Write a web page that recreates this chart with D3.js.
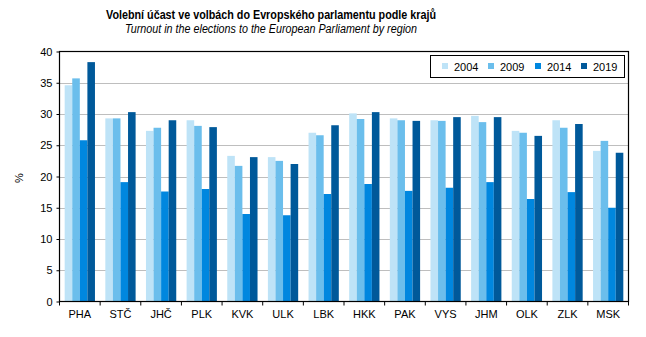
<!DOCTYPE html>
<html><head><meta charset="utf-8">
<script src="https://cdn.jsdelivr.net/npm/d3@7"></script>
<style>body{margin:0;background:#fff}svg{display:block}text{font-family:"Liberation Sans",Arial,sans-serif}</style>
</head><body><svg id="c" width="646" height="337"></svg>
<script>
const categories = ["PHA","STČ","JHČ","PLK","KVK","ULK","LBK","HKK","PAK","VYS","JHM","OLK","ZLK","MSK"];
const seriesNames = ["2004","2009","2014","2019"];
const v2004 = [34.6,29.3,27.3,29.0,23.3,23.1,27.0,30.1,29.3,29.0,29.7,27.3,29.0,24.1];
const v2009 = [35.7,29.3,27.8,28.1,21.7,22.5,26.6,29.2,29.0,28.9,28.7,27.0,27.8,25.7];
const v2014 = [25.8,19.1,17.6,18.0,14.0,13.8,17.2,18.8,17.7,18.2,19.1,16.4,17.5,15.0];
const v2019 = [38.3,30.3,29.0,27.9,23.1,22.0,28.2,30.3,28.9,29.5,29.5,26.5,28.4,23.8];
const yTicks = [0,5,10,15,20,25,30,35,40];
const colors = ["#BEE3F7","#6BBEEC","#0087DF","#00599A"];
const series = [v2004,v2009,v2014,v2019];

const svg = d3.select("#c");
const L=59.5, R=628.5, T=51.5, B=301.5;
const x = d3.scaleBand().domain(categories).range([L,R]).paddingInner(0.255).paddingOuter(0.1275);
const x0 = d3.scaleBand().domain(categories).range([L,R]);
const xs = d3.scaleBand().domain(seriesNames).range([0,x.bandwidth()]);
const y = d3.scaleLinear().domain([0,40]).range([B,T]);

// gridlines
svg.append("g").selectAll("line").data(yTicks.filter(t=>t>0&&t<40)).join("line")
  .attr("x1",L).attr("x2",R).attr("y1",d=>Math.round(y(d))+0.5).attr("y2",d=>Math.round(y(d))+0.5)
  .attr("stroke","#BEBEBE").attr("stroke-width",1);

// bars
series.forEach((vals,si)=>{
  svg.append("g").selectAll("rect").data(vals).join("rect")
    .attr("x",(d,i)=>x(categories[i])+xs(seriesNames[si]))
    .attr("width",xs.bandwidth())
    .attr("y",d=>y(d)).attr("height",d=>B-y(d))
    .attr("fill",colors[si]);
});

// frame
svg.append("rect").attr("x",L).attr("y",T).attr("width",R-L).attr("height",B-T)
  .attr("fill","none").attr("stroke","#000").attr("stroke-width",1.2);

// y axis
const ya = svg.append("g").attr("transform",`translate(${L},0)`)
  .call(d3.axisLeft(y).tickValues(yTicks).tickSize(3).tickPadding(4));
ya.select(".domain").remove();
ya.selectAll("text").attr("font-size",11).attr("fill","#000").attr("font-family","Liberation Sans, Arial, sans-serif");
ya.selectAll("line").attr("stroke","#000");

// x axis
const xa = svg.append("g").attr("transform",`translate(0,${B})`)
  .call(d3.axisBottom(x0).tickSize(0).tickPadding(9));
xa.select(".domain").remove();
xa.selectAll("text").attr("font-size",11).attr("fill","#000").attr("font-family","Liberation Sans, Arial, sans-serif");
svg.append("g").selectAll("line").data(d3.range(categories.length+1)).join("line")
  .attr("x1",i=>L+i*x0.step()).attr("x2",i=>L+i*x0.step())
  .attr("y1",B).attr("y2",B+4).attr("stroke","#000");

// y label
svg.append("text").attr("transform","translate(23,178) rotate(-90)").attr("text-anchor","middle")
  .attr("font-size",11).text("%");

// titles
svg.append("text").attr("x",106).attr("y",19)
  .attr("textLength",330).attr("lengthAdjust","spacingAndGlyphs")
  .attr("font-size",13).attr("font-weight","bold").text("Volební účast ve volbách do Evropského  parlamentu podle krajů");
svg.append("text").attr("x",125).attr("y",33)
  .attr("textLength",292).attr("lengthAdjust","spacingAndGlyphs")
  .attr("font-size",12).attr("font-style","italic").text("Turnout  in the elections to the European  Parliament by region");

// legend
const lg = svg.append("g");
lg.append("rect").attr("x",430.5).attr("y",55.5).attr("width",194).attr("height",22)
  .attr("fill","#fff").attr("stroke","#000").attr("stroke-width",1);
const lx = [442,488,535,581];
seriesNames.forEach((n,i)=>{
  lg.append("rect").attr("x",lx[i]).attr("y",63).attr("width",6).attr("height",6).attr("fill",colors[i]);
  lg.append("text").attr("x",lx[i]+12).attr("y",70.5).attr("font-size",11).text(n);
});
</script></body></html>
